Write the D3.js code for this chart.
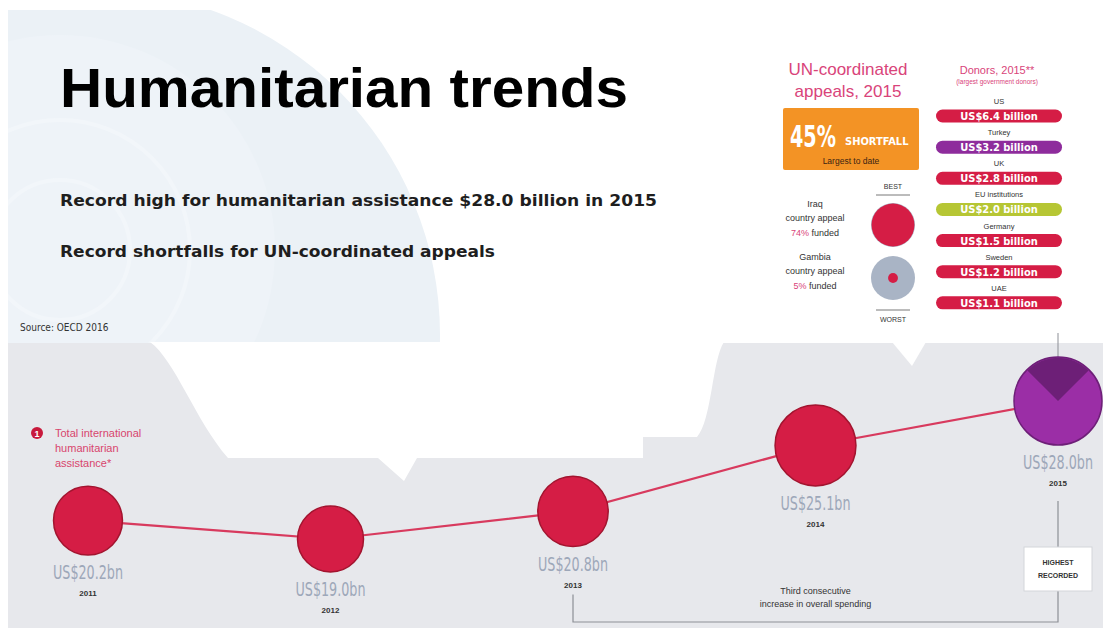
<!DOCTYPE html>
<html>
<head>
<meta charset="utf-8">
<script src="https://cdn.jsdelivr.net/npm/d3@7"></script>
<style>
  body { margin: 0; background: #fff; }
  text { font-family: "Liberation Sans", Arial, sans-serif; }
  .narrow { font-family: "Liberation Sans Narrow", "DejaVu Sans Condensed", sans-serif; }
  .sub { font-family: "DejaVu Sans", Verdana, sans-serif; font-weight: bold; }
</style>
</head>
<body>
<div id="chart"></div>
<script>
// total international humanitarian assistance
var years = ["2011", "2012", "2013", "2014", "2015"];
var totals = [20.2, 19.0, 20.8, 25.1, 28.0];
var totalLabels = ["US$20.2bn", "US$19.0bn", "US$20.8bn", "US$25.1bn", "US$28.0bn"];

// donors 2015
var donorNames = ["US", "Turkey", "UK", "EU institutions", "Germany", "Sweden", "UAE"];
var donorValues = [6.4, 3.2, 2.8, 2.0, 1.5, 1.2, 1.1];

// UN appeals
var appealNames = ["Iraq", "Gambia"];
var appealFunded = [74, 5];
var appealTags = ["BEST", "WORST"];
var shortfall = 45;

var width = 1103, height = 628;

var svg = d3.select("#chart").append("svg")
    .attr("width", width)
    .attr("height", height);

// ---- background ----
svg.append("clipPath").attr("id", "wm")
  .append("rect").attr("x", 8).attr("y", 10).attr("width", 600).attr("height", 335);

var wm = svg.append("g").attr("clip-path", "url(#wm)");
wm.append("circle").attr("cx", 95).attr("cy", 335).attr("r", 345).attr("fill", "#ebf1f6");
wm.append("circle").attr("cx", 60).attr("cy", 250).attr("r", 215).attr("fill", "#eef3f8");
[70, 130].forEach(function(rr) {
  wm.append("circle").attr("cx", 60).attr("cy", 250).attr("r", rr)
    .attr("fill", "none").attr("stroke", "#f2f6fa").attr("stroke-width", 4);
});

svg.append("rect")
    .attr("x", 8).attr("y", 343)
    .attr("width", width - 8).attr("height", height - 343)
    .attr("fill", "#e7e8ec");

// white cut-out on the grey band
svg.append("path")
    .attr("d", "M150,342 C175,360 195,420 228,458 L378,458 L404,481 L417,458 L643,458 L643,437 L697,437 C712,420 712,360 724,342 Z")
    .attr("fill", "#fff");

// bubble tail from the appeals panel
svg.append("path")
    .attr("d", "M892,342 L926,342 L912,366 Z")
    .attr("fill", "#fff");

// ---- titles ----
svg.append("text")
    .attr("x", 60).attr("y", 107)
    .attr("font-size", 56).attr("font-weight", "bold")
    .attr("textLength", 568).attr("lengthAdjust", "spacingAndGlyphs")
    .attr("fill", "#000")
    .text("Humanitarian trends");

svg.append("text").attr("class", "sub")
    .attr("x", 60).attr("y", 206)
    .attr("font-size", 16).attr("fill", "#1e1e1e")
    .attr("textLength", 597).attr("lengthAdjust", "spacingAndGlyphs")
    .text("Record high for humanitarian assistance $28.0 billion in 2015");

svg.append("text").attr("class", "sub")
    .attr("x", 60).attr("y", 257)
    .attr("font-size", 16).attr("fill", "#1e1e1e")
    .attr("textLength", 435).attr("lengthAdjust", "spacingAndGlyphs")
    .text("Record shortfalls for UN-coordinated appeals");

svg.append("text").attr("class", "narrow")
    .attr("x", 20).attr("y", 331)
    .attr("font-size", 10).attr("fill", "#333")
    .text("Source: OECD 2016");

// ---- timeline ----
var data = years.map(function(d, i) {
  return { year: d, total: totals[i], label: totalLabels[i] };
});

var xScale = d3.scalePoint().domain(years).range([88, 1058]),
    yScale = d3.scaleLinear().domain([19, 28]).range([539, 401]),
    rScale = d3.scaleLinear().domain([19, 28]).range([33, 44]);

function cx(d) { return xScale(d.year); }
function cy(d) { return yScale(d.total); }
function rad(d) { return rScale(d.total); }
var last = data[data.length - 1];

// connector to panel and record box
svg.append("line")
    .attr("x1", cx(last)).attr("x2", cx(last))
    .attr("y1", 333).attr("y2", cy(last) - rad(last))
    .attr("stroke", "#8d8f96").attr("stroke-width", 1);

var first3 = data[2];
var bracketY = 622;
var boxTop = 547, boxBottom = 591;
svg.append("path")
    .attr("d", "M" + cx(first3) + "," + (cy(first3) + rad(first3) + 48) +
               "V" + bracketY + "H" + cx(last) + "V" + boxBottom)
    .attr("fill", "none").attr("stroke", "#8d8f96").attr("stroke-width", 1.2);
svg.append("line")
    .attr("x1", cx(last)).attr("x2", cx(last))
    .attr("y1", cy(last) + rad(last) + 56).attr("y2", boxTop)
    .attr("stroke", "#8d8f96").attr("stroke-width", 1.2);

svg.append("rect")
    .attr("x", cx(last) - 34).attr("y", boxTop)
    .attr("width", 68).attr("height", boxBottom - boxTop)
    .attr("fill", "#fff").attr("stroke", "#d4d5da");
svg.append("text").attr("x", cx(last)).attr("y", boxTop + 18)
    .attr("text-anchor", "middle").attr("font-size", 7).attr("fill", "#333").attr("font-weight", "bold")
    .text("HIGHEST");
svg.append("text").attr("x", cx(last)).attr("y", boxTop + 31)
    .attr("text-anchor", "middle").attr("font-size", 7).attr("fill", "#333").attr("font-weight", "bold")
    .text("RECORDED");

var midX = (cx(first3) + cx(last)) / 2;
svg.append("text").attr("x", midX).attr("y", 594)
    .attr("text-anchor", "middle").attr("font-size", 9).attr("fill", "#333")
    .text("Third consecutive");
svg.append("text").attr("x", midX).attr("y", 607)
    .attr("text-anchor", "middle").attr("font-size", 9).attr("fill", "#333")
    .text("increase in overall spending");

var line = d3.line().x(cx).y(cy);
svg.append("path")
    .datum(data)
    .attr("d", line)
    .attr("fill", "none")
    .attr("stroke", "#d83a5e")
    .attr("stroke-width", 2.2);

var dots = svg.append("g").selectAll("g")
    .data(data)
    .enter().append("g")
    .attr("transform", function(d) { return "translate(" + cx(d) + "," + cy(d) + ")"; });

dots.append("circle")
    .attr("r", rad)
    .attr("fill", function(d) { return d === last ? "#9b2ea6" : "#d51d45"; })
    .attr("stroke", function(d) { return d === last ? "#6e1f78" : "#a3142f"; })
    .attr("stroke-width", 1.5);

dots.filter(function(d) { return d === last; })
  .append("path")
    .attr("d", function(d) {
      return d3.arc().innerRadius(0).outerRadius(rad(d) - 0.8)
        .startAngle(-Math.PI / 4).endAngle(Math.PI / 4)();
    })
    .attr("fill", "#6d1f77");

// tall condensed value labels: small font stretched vertically
dots.append("text").attr("class", "narrow")
    .attr("transform", function(d) { return "translate(0," + (rad(d) + 24) + ") scale(1,1.4)"; })
    .attr("text-anchor", "middle")
    .attr("font-size", 14)
    .attr("textLength", 70).attr("lengthAdjust", "spacingAndGlyphs")
    .attr("fill", "#9da7b9")
    .text(function(d) { return d.label; });

dots.append("text")
    .attr("y", function(d) { return rad(d) + 41; })
    .attr("text-anchor", "middle")
    .attr("font-size", 8).attr("font-weight", "bold")
    .attr("fill", "#333")
    .text(function(d) { return d.year; });

// legend note
svg.append("circle").attr("cx", 37).attr("cy", 433).attr("r", 6).attr("fill", "#c8193c");
svg.append("text").attr("x", 37).attr("y", 436.5).attr("text-anchor", "middle")
    .attr("font-size", 9).attr("font-weight", "bold").attr("fill", "#fff").text("1");
["Total international", "humanitarian", "assistance*"].forEach(function(t, i) {
  svg.append("text").attr("x", 55).attr("y", 437 + i * 15)
      .attr("font-size", 11).attr("fill", "#d8456c")
      .text(t);
});

// ---- UN-coordinated appeals panel ----
var pink = "#d9447a";
svg.append("text").attr("x", 848).attr("y", 75).attr("text-anchor", "middle")
    .attr("font-size", 17).attr("fill", pink).text("UN-coordinated");
svg.append("text").attr("x", 848).attr("y", 97).attr("text-anchor", "middle")
    .attr("font-size", 17).attr("fill", pink).text("appeals, 2015");

svg.append("rect").attr("x", 783).attr("y", 108).attr("width", 136).attr("height", 62)
    .attr("rx", 2).attr("fill", "#f39325");
svg.append("text").attr("class", "narrow")
    .attr("transform", "translate(790,147) scale(1,1.4)")
    .attr("font-size", 21).attr("font-weight", "bold").attr("fill", "#fff")
    .attr("textLength", 46).attr("lengthAdjust", "spacingAndGlyphs")
    .text(shortfall + "%");
svg.append("text").attr("class", "narrow").attr("x", 845).attr("y", 145)
    .attr("font-size", 11).attr("font-weight", "bold").attr("fill", "#fff")
    .text("SHORTFALL");
svg.append("text").attr("x", 851).attr("y", 164).attr("text-anchor", "middle")
    .attr("font-size", 8.5).attr("fill", "#3b2412")
    .text("Largest to date");

var appealY = d3.scalePoint().domain(appealNames).range([225, 278]);
var fundR = d3.scaleSqrt().domain([0, 100]).range([0, 22]);

appealNames.forEach(function(name, i) {
  var yy = appealY(name);
  svg.append("circle").attr("cx", 893).attr("cy", yy).attr("r", 22).attr("fill", "#a9b4c5");
  svg.append("circle").attr("cx", 893).attr("cy", yy).attr("r", fundR(appealFunded[i]) + (i === 0 ? 2.5 : 0))
      .attr("fill", "#d51d45");
  var t = svg.append("g").attr("transform", "translate(815," + (yy - 18) + ")")
      .attr("font-size", 9).attr("text-anchor", "middle").attr("fill", "#333");
  t.append("text").attr("y", 0).text(name);
  t.append("text").attr("y", 14).text("country appeal");
  var f = t.append("text").attr("y", 29);
  f.append("tspan").attr("fill", pink).text(appealFunded[i] + "%");
  f.append("tspan").text(" funded");
});

svg.append("text").attr("x", 893).attr("y", 189).attr("text-anchor", "middle")
    .attr("font-size", 7).attr("fill", "#333").text(appealTags[0]);
svg.append("line").attr("x1", 876).attr("x2", 910).attr("y1", 195).attr("y2", 195)
    .attr("stroke", "#555").attr("stroke-width", 0.8);
svg.append("line").attr("x1", 876).attr("x2", 910).attr("y1", 310).attr("y2", 310)
    .attr("stroke", "#555").attr("stroke-width", 0.8);
svg.append("text").attr("x", 893).attr("y", 322).attr("text-anchor", "middle")
    .attr("font-size", 7).attr("fill", "#333").text(appealTags[1]);

// ---- donors ----
svg.append("text").attr("x", 997).attr("y", 74).attr("text-anchor", "middle")
    .attr("font-size", 11).attr("fill", pink).text("Donors, 2015**");
svg.append("text").attr("x", 997).attr("y", 84).attr("text-anchor", "middle")
    .attr("font-size", 6.5).attr("fill", pink).text("(largest government donors)");

var donorColor = d3.scaleOrdinal()
    .domain(donorNames)
    .range(["#d51d45", "#8e2c9c", "#d51d45", "#b6c634", "#d51d45", "#d51d45", "#d51d45"]);

var bandY = d3.scaleBand().domain(donorNames).range([95, 313]);

var donors = svg.append("g").selectAll("g")
    .data(donorNames)
    .enter().append("g")
    .attr("transform", function(d) { return "translate(0," + bandY(d) + ")"; });

donors.append("text")
    .attr("x", 999).attr("y", 9)
    .attr("text-anchor", "middle")
    .attr("font-size", 7.5).attr("fill", "#333")
    .text(function(d) { return d; });

donors.append("rect")
    .attr("x", 936).attr("y", 14.5)
    .attr("width", 126).attr("height", 13).attr("rx", 6.5)
    .attr("fill", donorColor);

donors.append("text").attr("class", "narrow")
    .attr("x", 999).attr("y", 25)
    .attr("text-anchor", "middle")
    .attr("font-size", 11).attr("font-weight", "bold").attr("fill", "#fff")
    .text(function(d, i) { return "US$" + donorValues[i].toFixed(1) + " billion"; });
</script>
</body>
</html>
